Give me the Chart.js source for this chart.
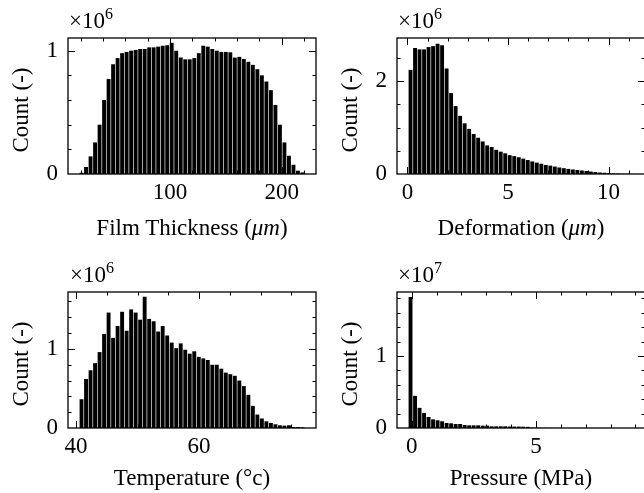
<!DOCTYPE html>
<html>
<head>
<meta charset="utf-8">
<script src="https://cdn.jsdelivr.net/npm/chart.js@4.4.1/dist/chart.umd.min.js"></script>
<style>
  html, body { margin: 0; padding: 0; background: #fff; overflow: hidden; }
  body { width: 644px; height: 493px; position: relative; font-family: "Liberation Serif", "Times New Roman", serif; color: #000; }
  canvas { position: absolute; display: block; }
  .xlab { position: absolute; width: 300px; text-align: center; font-size: 23px; line-height: 23px; white-space: nowrap; }
  .ylab { position: absolute; font-size: 23px; line-height: 23px; white-space: nowrap; transform: translate(-50%, -50%) rotate(-90deg); }
  .mult { position: absolute; font-size: 23px; line-height: 23px; white-space: nowrap; }
  .mult sup { font-size: 16px; line-height: 0; vertical-align: 9px; }
</style>
</head>
<body>
<canvas id="film" width="322" height="250" style="left:0;top:0"></canvas>
<canvas id="deform" width="330" height="250" style="left:322px;top:0"></canvas>
<canvas id="temp" width="322" height="243" style="left:0;top:250px"></canvas>
<canvas id="press" width="330" height="243" style="left:322px;top:250px"></canvas>

<div class="mult" style="left:69px;top:9px">&times;10<sup>6</sup></div>
<div class="mult" style="left:398px;top:9px">&times;10<sup>6</sup></div>
<div class="mult" style="left:70px;top:263px">&times;10<sup>6</sup></div>
<div class="mult" style="left:398px;top:263px">&times;10<sup>7</sup></div>

<div class="ylab" style="left:20px;top:110px">Count (-)</div>
<div class="ylab" style="left:349px;top:110px">Count (-)</div>
<div class="ylab" style="left:20px;top:364px">Count (-)</div>
<div class="ylab" style="left:349px;top:364px">Count (-)</div>

<div class="xlab" style="left:42px;top:216px">Film Thickness (<i>&mu;m</i>)</div>
<div class="xlab" style="left:371px;top:216px">Deformation (<i>&mu;m</i>)</div>
<div class="xlab" style="left:42px;top:466px">Temperature (&deg;c)</div>
<div class="xlab" style="left:371px;top:466px">Pressure (MPa)</div>

<script>
// histogram counts, 50 bins each (film/deform/temp in 1e6, pressure in 1e7)
const filmCounts = [0.01, 0.057, 0.143, 0.256, 0.40, 0.60, 0.77, 0.89, 0.94, 0.98,
    0.99, 1.0, 1.006, 1.014, 1.014, 1.027, 1.027, 1.033, 1.04, 1.045,
    1.065, 1.0, 0.945, 0.93, 0.93, 0.94, 0.98, 1.04, 1.033, 1.014,
    1.0, 0.99, 0.99, 0.987, 0.944, 0.95, 0.933, 0.91, 0.885, 0.85,
    0.80, 0.75, 0.68, 0.56, 0.40, 0.256, 0.148, 0.075, 0.027, 0.013];
const deformCounts = [2.24, 2.71, 2.68, 2.68, 2.73, 2.75, 2.80, 2.77, 2.27, 1.74,
    1.46, 1.25, 1.09, 0.97, 0.86, 0.78, 0.70, 0.615, 0.58, 0.52,
    0.48, 0.445, 0.405, 0.385, 0.36, 0.33, 0.30, 0.27, 0.245, 0.22,
    0.195, 0.18, 0.16, 0.14, 0.125, 0.11, 0.097, 0.086, 0.076, 0.064,
    0.053, 0.043, 0.032, 0.026, 0.017, 0.012, 0.01, 0.005, 0.003, 0.002];
const tempCounts = [0.364, 0.62, 0.73, 0.82, 0.96, 1.19, 1.46, 1.14, 1.29, 1.47,
    1.23, 1.50, 1.46, 1.37, 1.66, 1.38, 1.35, 1.22, 1.29, 1.17,
    1.08, 1.01, 1.07, 0.99, 0.94, 0.97, 0.90, 0.88, 0.86, 0.80,
    0.80, 0.75, 0.70, 0.68, 0.66, 0.60, 0.53, 0.42, 0.28, 0.17,
    0.12, 0.085, 0.064, 0.047, 0.034, 0.03, 0.034, 0.013, 0.013, 0.008];
const pressCounts = [1.82, 0.447, 0.28, 0.21, 0.153, 0.12, 0.107, 0.093, 0.07, 0.065,
    0.056, 0.056, 0.042, 0.037, 0.037, 0.037, 0.033, 0.033, 0.023, 0.023,
    0.023, 0.023, 0.02, 0.02, 0.02, 0.018, 0.016, 0.006, 0.004, 0.003,
    0.003, 0.002, 0.002, 0.002, 0.001, 0.001, 0.001, 0.001, 0.001, 0.001,
    0.0005, 0.0005, 0.0005, 0.0005, 0.0005, 0.0003, 0.0003, 0.0003, 0.0002, 0.0002];

// bin edges (first, last) of each histogram
const filmEdges = [18.77, 220.6];
const deformEdges = [0.039, 11.255];
const tempEdges = [40.53, 77.19];
const pressEdges = [-0.138, 8.931];

// tick labels
const filmTicks = [100, 200];
const deformTicks = [0, 5, 10];
const tempTicks = [40, 60];
const pressTicks = [0, 5];

Chart.defaults.font.family = "'Liberation Serif', 'Times New Roman', serif";
Chart.defaults.font.size = 23;
Chart.defaults.color = "#000";

const frameTicks = {
    id: "frameTicks",
    afterDraw(chart, args, opts) {
        const ctx = chart.ctx;
        const a = chart.chartArea;
        const x = chart.scales.x, y = chart.scales.y;
        const steps = (scale, step) => {
            const out = [];
            for (let v = Math.ceil(scale.min / step) * step; v <= scale.max; v += step) out.push(v);
            return out;
        };
        ctx.save();
        ctx.strokeStyle = "#000";
        ctx.lineWidth = 1;
        ctx.beginPath();
        const markX = (vals, len) => vals.forEach(v => {
            const p = Math.round(x.getPixelForValue(v)) + 0.5;
            if (p <= a.left + 1 || p >= a.right - 1) return;
            ctx.moveTo(p, a.bottom); ctx.lineTo(p, a.bottom - len);
            ctx.moveTo(p, a.top); ctx.lineTo(p, a.top + len);
        });
        const markY = (vals, len) => vals.forEach(v => {
            const p = Math.round(y.getPixelForValue(v)) + 0.5;
            if (p <= a.top + 1 || p >= a.bottom - 1) return;
            ctx.moveTo(a.left, p); ctx.lineTo(a.left + len, p);
            ctx.moveTo(a.right, p); ctx.lineTo(a.right - len, p);
        });
        markX(opts.xMajor, 7);
        markX(steps(x, opts.xMinor), 3.5);
        markY(steps(y, opts.yMajor), 7);
        markY(steps(y, opts.yMinor), 3.5);
        ctx.stroke();
        ctx.lineWidth = 1.3;
        ctx.strokeRect(a.left, a.top, a.width, a.height);
        ctx.restore();
    }
};

function histogram(id, cfg) {
    const lo = cfg.edges[0], hi = cfg.edges[1];
    const w = (hi - lo) / cfg.counts.length;
    const pad = (hi - lo) * 0.05;
    const points = cfg.counts.map((c, i) => ({x: lo + (i + 0.5) * w, y: c * cfg.unit}));
    return new Chart(document.getElementById(id), {
        type: "bar",
        data: {
            datasets: [{
                data: points,
                backgroundColor: "#000",
                borderWidth: 0,
                barPercentage: 0.86,
                categoryPercentage: 1.0,
            }]
        },
        options: {
            responsive: false,
            animation: false,
            devicePixelRatio: 1,
            layout: {padding: {left: 0, top: cfg.top, right: cfg.right, bottom: 0}},
            plugins: {
                legend: {display: false},
                tooltip: {enabled: false},
                frameTicks: {xMajor: cfg.ticks, xMinor: cfg.xMinor, yMajor: cfg.yMajor, yMinor: cfg.yMinor},
            },
            scales: {
                x: {
                    type: "linear",
                    offset: false,
                    min: lo - pad,
                    max: hi + pad,
                    grid: {display: false, drawTicks: false, offset: false},
                    border: {display: false},
                    ticks: {padding: 5, maxRotation: 0, autoSkip: false, callback: v => String(v)},
                    afterBuildTicks: s => { s.ticks = cfg.ticks.map(v => ({value: v})); },
                    afterFit: s => { s.height = cfg.xHeight; },
                },
                y: {
                    min: 0,
                    max: cfg.yMax * cfg.unit,
                    grid: {display: false, drawTicks: false},
                    border: {display: false},
                    ticks: {padding: 10, autoSkip: false, callback: v => String(Math.round(v / cfg.unit))},
                    afterBuildTicks: s => { s.ticks = [0, cfg.yMajor].map(v => ({value: v})); },
                    afterFit: s => { s.width = cfg.yWidth; },
                }
            }
        },
        plugins: [frameTicks]
    });
}

histogram("film", {counts: filmCounts, edges: filmEdges, unit: 1e6, yMax: 1.103, ticks: filmTicks,
    xMinor: 20, yMajor: 1e6, yMinor: 0.2e6, top: 38, right: 6, yWidth: 68, xHeight: 76});
histogram("deform", {counts: deformCounts, edges: deformEdges, unit: 1e6, yMax: 2.925, ticks: deformTicks,
    xMinor: 1, yMajor: 2e6, yMinor: 0.5e6, top: 38, right: 7, yWidth: 75, xHeight: 76});
histogram("temp", {counts: tempCounts, edges: tempEdges, unit: 1e6, yMax: 1.72, ticks: tempTicks,
    xMinor: 5, yMajor: 1e6, yMinor: 0.2e6, top: 42, right: 6, yWidth: 68, xHeight: 65});
histogram("press", {counts: pressCounts, edges: pressEdges, unit: 1e7, yMax: 1.89, ticks: pressTicks,
    xMinor: 1, yMajor: 1e7, yMinor: 0.2e7, top: 42, right: 7, yWidth: 75, xHeight: 65});
</script>
</body>
</html>
